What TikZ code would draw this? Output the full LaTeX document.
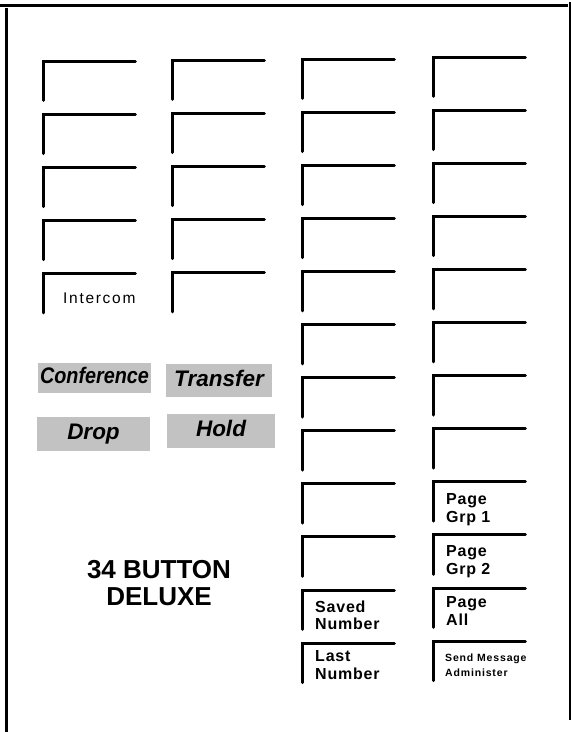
\documentclass[tikz,border=0pt]{standalone}
\usepackage{fontspec}
\setmainfont{Liberation Sans}
\newfontfamily\keyfont[LetterSpace=5]{Liberation Sans Bold}
\newfontfamily\plainkeyfont[LetterSpace=11]{Liberation Sans}
\newfontfamily\narrowfont[FakeStretch=0.88]{Liberation Sans Bold Italic}
\usetikzlibrary{positioning}
\definecolor{figgrey}{gray}{0.76}
\tikzset{
  fig/.style={x=1pt,y=-1pt},
  key/.style={anchor=north west,minimum width=92pt,minimum height=39pt,inner sep=0pt},
  keyline/.style={line width=3pt,line cap=round},
  keylbl/.style={anchor=north west,align=left,inner sep=0pt,
                 font=\keyfont\fontsize{16}{17.5}\selectfont},
  smalllbl/.style={keylbl,font=\keyfont\addfontfeature{LetterSpace=8}\fontsize{10.5}{15}\selectfont},
  greybox/.style={fill=figgrey,inner sep=0pt,text height=15pt,text depth=4pt,
                  font=\bfseries\itshape\fontsize{22.5}{24}\selectfont},
  frame/.style={line width=3pt},
}

\begin{document}
\begin{tikzpicture}[fig,
  title/.style={align=center,inner sep=0pt,font=\bfseries\fontsize{26}{27}\selectfont}]

\useasboundingbox (0,0) rectangle (571,732);
\def\rh{53.1}

% ------------------------------------------------ frame
\draw[frame] (0,5) -- (568,5);
\draw[frame] (6,8) -- (6,732);
\draw[frame] (570,2) -- (570,720);

% ------------------------------------------------ columns of keys
\foreach \cx/\cy/\nk [count=\c from 1] in {43/61/5, 172/60/5, 302/59/12, 433/57/12}
  \foreach \n in {1,...,\nk}
  {\node[key] (k\c-\n) at (\cx,{\cy+(\n-1)*\rh}) {};
   \draw[keyline] (k\c-\n.south west) -- (k\c-\n.north west) -- (k\c-\n.north east);}

% ------------------------------------------------ key labels
\node[keylbl,font=\plainkeyfont\fontsize{15.5}{17}\selectfont,
      below right=19pt and 20pt of k1-5.north west] (intercom) {Intercom};
\node[keylbl,below right=10.5pt and 13pt of k3-11.north west] (saved) {Saved\\Number};
\node[keylbl,below right=7.5pt and 13pt of k3-12.north west] (last) {Last\\Number};
\node[keylbl,below right=11.5pt and 13pt of k4-9.north west] (pg1) {Page\\Grp 1};
\node[keylbl,below right=10.5pt and 13pt of k4-10.north west] (pg2) {Page\\Grp 2};
\node[keylbl,below right=8.5pt and 13pt of k4-11.north west] (pgall) {Page\\All};
\node[smalllbl,below right=12.5pt and 12pt of k4-12.north west] (sendmsg) {Send Message\\Administer};

% ------------------------------------------------ fixed feature keys
\node[greybox,font=\narrowfont\fontsize{22.5}{24}\selectfont,
      minimum width=113pt,minimum height=30pt] (conf) at (94.5,378) {Conference};
\node[greybox,minimum width=106pt,minimum height=33pt] (xfer) at (219,380.5) {Transfer};
\node[greybox,minimum width=113pt,minimum height=34pt] (drop) at (93.5,434) {Drop};
\node[greybox,minimum width=108pt,minimum height=34pt] (hold) at (221,431) {Hold};

% ------------------------------------------------ title
\node[title] (model) at (159,583) {34 BUTTON\\DELUXE};

\end{tikzpicture}
\end{document}
